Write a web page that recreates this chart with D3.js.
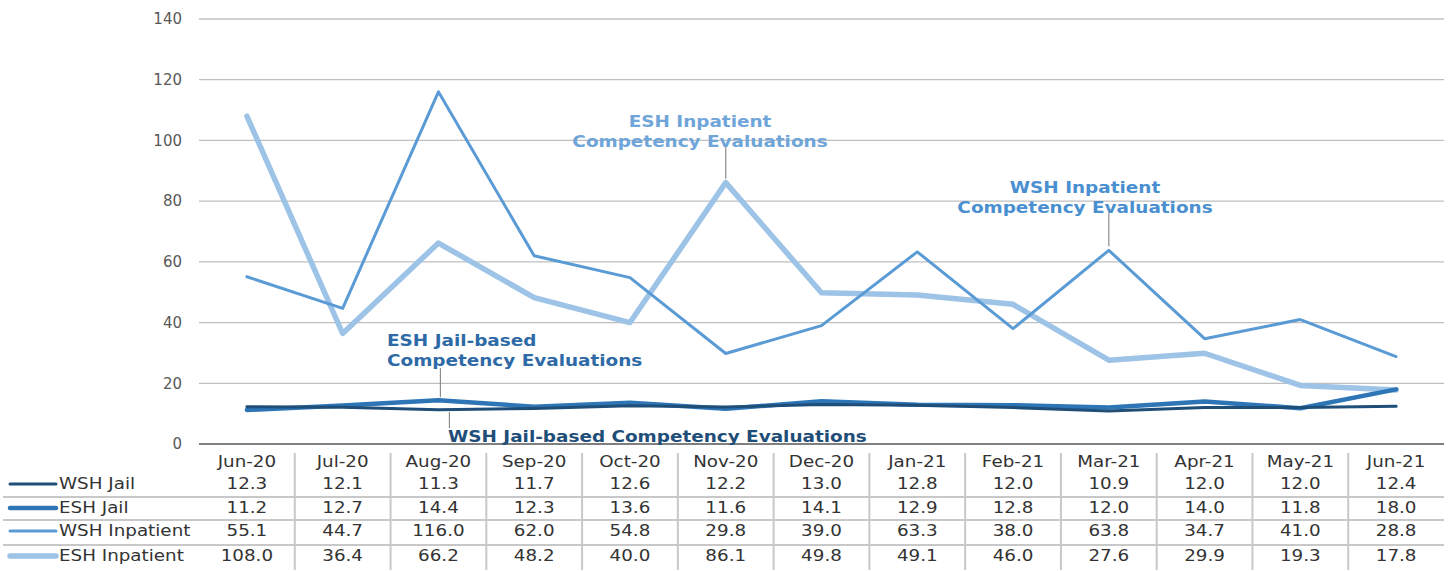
<!DOCTYPE html>
<html><head><meta charset="utf-8">
<script src="https://cdn.jsdelivr.net/npm/d3@7"></script>
<style>body{margin:0;background:#fff}svg{display:block}</style>
</head><body>
<script>
const months = ["Jun-20","Jul-20","Aug-20","Sep-20","Oct-20","Nov-20","Dec-20","Jan-21","Feb-21","Mar-21","Apr-21","May-21","Jun-21"];
const wshJail = [12.3,12.1,11.3,11.7,12.6,12.2,13.0,12.8,12.0,10.9,12.0,12.0,12.4];
const eshJail = [11.2,12.7,14.4,12.3,13.6,11.6,14.1,12.9,12.8,12.0,14.0,11.8,18.0];
const wshInpatient = [55.1,44.7,116.0,62.0,54.8,29.8,39.0,63.3,38.0,63.8,34.7,41.0,28.8];
const eshInpatient = [108.0,36.4,66.2,48.2,40.0,86.1,49.8,49.1,46.0,27.6,29.9,19.3,17.8];
const yTicks = [0,20,40,60,80,100,120,140];
const seriesNames = ["WSH Jail","ESH Jail","WSH Inpatient","ESH Inpatient"];

const series = [
  {name:seriesNames[0], values:wshJail, color:"#1f4e79", width:3},
  {name:seriesNames[1], values:eshJail, color:"#2e75b6", width:4.5},
  {name:seriesNames[2], values:wshInpatient, color:"#5b9bd5", width:3},
  {name:seriesNames[3], values:eshInpatient, color:"#9dc3e6", width:5.5}
];

const W=1450,H=571;
const svg=d3.select("body").append("svg").attr("width",W).attr("height",H);
const pLeft=199,pRight=1444,pTop=19,pBottom=444;
const x=d3.scaleBand().domain(months).range([pLeft,pRight]).padding(0);
const y=d3.scaleLinear().domain([0,140]).range([pBottom,pTop]);
const font="'DejaVu Sans', Verdana, sans-serif";
const STRETCH=1.22;
function stretch(sel, f){
  sel.each(function(){
    const len=this.getComputedTextLength();
    d3.select(this).attr("textLength",len*(f||STRETCH)).attr("lengthAdjust","spacingAndGlyphs");
  });
}

// gridlines
svg.append("g").selectAll("line").data(yTicks.filter(d=>d>0)).join("line")
  .attr("x1",pLeft).attr("x2",pRight).attr("y1",d=>y(d)).attr("y2",d=>y(d))
  .attr("stroke","#bfbfbf").attr("stroke-width",1.3);
// y axis labels
const yAxis=d3.axisLeft(y).tickValues(yTicks).tickSize(0).tickPadding(17);
const gy=svg.append("g").attr("transform",`translate(${pLeft},0)`).call(yAxis);
gy.select(".domain").remove();
gy.selectAll("text").attr("font-family",font).attr("font-size",15).attr("fill","#595959");
// x axis baseline
svg.append("line").attr("x1",pLeft).attr("x2",pRight).attr("y1",pBottom).attr("y2",pBottom)
  .attr("stroke","#7f7f7f").attr("stroke-width",2);

// lines
const cx=d=>x(d)+x.bandwidth()/2;
const lineGen=d3.line().x((d,i)=>cx(months[i])).y(d=>y(d));
[3,2,1,0].forEach(k=>{
  const s=series[k];
  svg.append("path").datum(s.values).attr("d",lineGen)
    .attr("fill","none").attr("stroke",s.color).attr("stroke-width",s.width)
    .attr("stroke-linejoin","round").attr("stroke-linecap","round");
});

// annotations
function annot(lines, tx, ty, anchor, color, lx, ly1, ly2){
  svg.append("line").attr("x1",lx).attr("x2",lx).attr("y1",ly1).attr("y2",ly2)
    .attr("stroke","#8c8c8c").attr("stroke-width",1.2);
  const t=svg.append("text").attr("font-family",font).attr("font-weight","bold")
    .attr("font-size",16).attr("fill",color).attr("text-anchor",anchor);
  lines.forEach((l,i)=>{
    const ts=t.append("tspan").attr("x",tx).attr("y",ty+i*20).text(l);
    stretch(ts,1.15);
  });
}
annot(["ESH Inpatient","Competency Evaluations"],700,127,"middle","#6fa5d8",cx("Nov-20"),147,y(86.1)-4);
annot(["WSH Inpatient","Competency Evaluations"],1085,193,"middle","#4a8fd0",cx("Mar-21"),213,y(63.8)-4);
annot(["ESH Jail-based","Competency Evaluations"],387,346,"start","#2e6aa6",cx("Aug-20")+2,368,y(14.4)-3);
annot(["WSH Jail-based Competency Evaluations"],448,442,"start","#1f4e79",cx("Aug-20")+11,412,428);

// table
const rowY=[462,484,508,531,556];
const sepY=[497,520,545];
const tableTop=453,tableBottom=570;
svg.append("g").selectAll("line").data(sepY).join("line")
  .attr("x1",3).attr("x2",pRight).attr("y1",d=>d).attr("y2",d=>d)
  .attr("stroke","#c8c8c8").attr("stroke-width",2);
svg.append("g").selectAll("line").data(months.slice(1)).join("line")
  .attr("x1",d=>x(d)).attr("x2",d=>x(d)).attr("y1",tableTop).attr("y2",tableBottom)
  .attr("stroke","#c8c8c8").attr("stroke-width",2);
const hdr=svg.append("g").selectAll("text").data(months).join("text")
  .attr("x",d=>cx(d)).attr("y",rowY[0]+5).attr("text-anchor","middle")
  .attr("font-family",font).attr("font-size",15).attr("fill","#333").text(d=>d);
stretch(hdr);
series.forEach((s,k)=>{
  const ry=rowY[k+1];
  svg.append("line").attr("x1",10).attr("x2",56).attr("y1",ry).attr("y2",ry)
    .attr("stroke",s.color).attr("stroke-width",s.width).attr("stroke-linecap","round");
  const lab=svg.append("text").attr("x",59).attr("y",ry+5).attr("font-family",font).attr("font-size",15)
    .attr("fill","#333").text(s.name);
  stretch(lab);
  const vals=svg.append("g").selectAll("text").data(s.values).join("text")
    .attr("x",(d,i)=>cx(months[i])).attr("y",ry+5).attr("text-anchor","middle")
    .attr("font-family",font).attr("font-size",15).attr("fill","#333").text(d=>d.toFixed(1));
  stretch(vals);
});
</script>
</body></html>
